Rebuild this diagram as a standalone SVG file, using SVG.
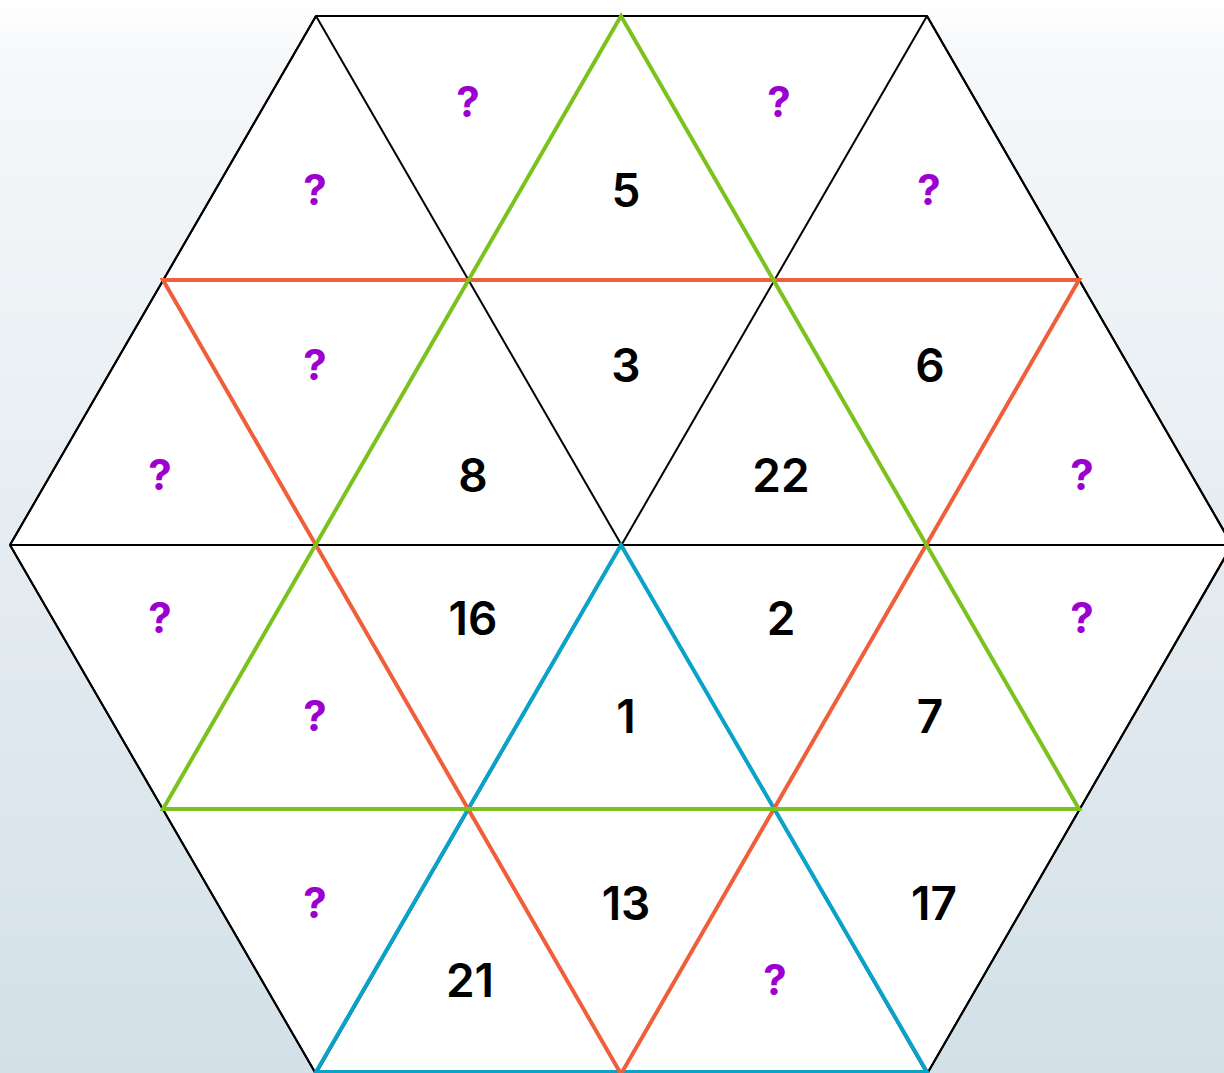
<svg xmlns="http://www.w3.org/2000/svg" width="1224" height="1073" viewBox="0 0 1224 1073">
<defs>
<linearGradient id="bg" x1="0" y1="0" x2="0" y2="1">
<stop offset="0" stop-color="#ffffff"/>
<stop offset="0.05" stop-color="#f6f8fa"/>
<stop offset="1" stop-color="#d3e0e8"/>
</linearGradient>
</defs>
<style>
.hex{stroke:#000;stroke-width:2;fill:#fff}
.grid{stroke:#000;stroke-width:2;fill:none}
.g{stroke:#7cc21e;stroke-width:4;fill:none}
.o{stroke:#ef5f3c;stroke-width:4;fill:none}
.b{stroke:#0aa2c9;stroke-width:4;fill:none}
.n{font-family:Inter,"Liberation Sans",sans-serif;font-weight:600;font-size:46px;fill:#000;text-anchor:middle}
.q{font-family:Inter,"Liberation Sans",sans-serif;font-weight:700;font-size:42px;fill:#9b00d0;text-anchor:middle}
</style>
<rect x="0" y="0" width="1224" height="1073" fill="url(#bg)"/>
<g id="hexagon">
<polygon class="hex" points="316,16 927,16 1232,545 927,1074 316,1074 10,545"/>
</g>
<g id="connectors">
<g class="grid">
<line x1="163" y1="280" x2="1079" y2="280"/>
<line x1="10" y1="545" x2="1232" y2="545"/>
<line x1="163" y1="809" x2="1079" y2="809"/>
<line x1="316" y1="16" x2="927" y2="1074"/>
<line x1="621" y1="16" x2="1079" y2="809"/>
<line x1="927" y1="16" x2="1232" y2="545"/>
<line x1="163" y1="280" x2="621" y2="1074"/>
<line x1="10" y1="545" x2="316" y2="1074"/>
<line x1="927" y1="16" x2="316" y2="1074"/>
<line x1="621" y1="16" x2="163" y2="809"/>
<line x1="316" y1="16" x2="10" y2="545"/>
<line x1="1079" y1="280" x2="621" y2="1074"/>
<line x1="1232" y1="545" x2="927" y2="1074"/>
</g>
<polygon class="b" points="621,545 927,1072 316,1072"/>
<polygon class="o" points="163,280 1079,280 621,1074"/>
<polygon class="g" points="621,16 1079,809 163,809"/>
</g>
<g id="labels">
<text class="q" x="468" y="117">?</text>
<text class="q" x="779" y="117">?</text>
<text class="q" x="315" y="205">?</text>
<text class="n" x="626" y="207">5</text>
<text class="q" x="929" y="205">?</text>
<text class="q" x="315" y="380">?</text>
<text class="n" x="626" y="382">3</text>
<text class="n" x="930" y="382">6</text>
<text class="q" x="160" y="490">?</text>
<text class="n" x="473" y="492">8</text>
<text class="n" x="781" y="492">22</text>
<text class="q" x="1082" y="490">?</text>
<text class="q" x="160" y="633">?</text>
<text class="n" x="473" y="635">16</text>
<text class="n" x="781" y="635">2</text>
<text class="q" x="1082" y="633">?</text>
<text class="q" x="315" y="731">?</text>
<text class="n" x="626" y="733">1</text>
<text class="n" x="930" y="733">7</text>
<text class="q" x="315" y="918">?</text>
<text class="n" x="626" y="920">13</text>
<text class="n" x="934" y="920">17</text>
<text class="n" x="470" y="997">21</text>
<text class="q" x="775" y="995">?</text>
</g>
</svg>
